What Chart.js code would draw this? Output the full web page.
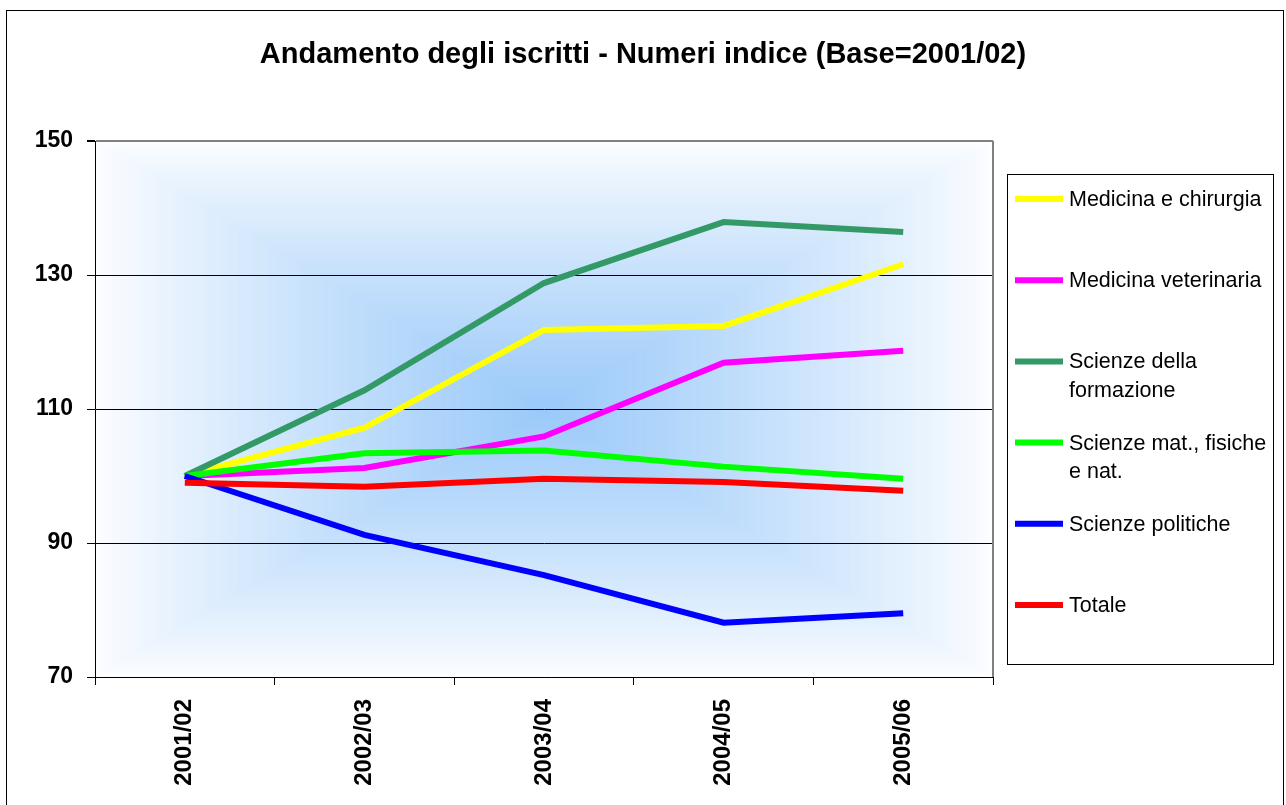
<!DOCTYPE html>
<html>
<head>
<meta charset="utf-8">
<script src="https://cdn.jsdelivr.net/npm/chart.js@4"></script>
<style>
  body { margin: 0; background: #fff; }
  #wrap { width: 1286px; height: 805px; }
</style>
</head>
<body>
<div id="wrap"><canvas id="lineChart" width="1286" height="805"></canvas></div>
<script>
var years = ['2001/02', '2002/03', '2003/04', '2004/05', '2005/06'];
var seriesNames = ['Medicina e chirurgia', 'Medicina veterinaria', 'Scienze della\nformazione', 'Scienze mat., fisiche\ne nat.', 'Scienze politiche', 'Totale'];
var medicinaChirurgia = [100, 107.2, 121.8, 122.4, 131.6];
var medicinaVeterinaria = [100, 101.2, 105.9, 116.9, 118.7];
var scienzeFormazione = [100, 112.8, 128.8, 137.9, 136.4];
var scienzeMat = [100, 103.4, 103.8, 101.4, 99.6];
var scienzePolitiche = [100, 91.2, 85.2, 78.1, 79.5];
var totale = [99.0, 98.4, 99.6, 99.1, 97.8];
var yTicks = [70, 90, 110, 130, 150];

var colors = ['#ffff00', '#ff00ff', '#339966', '#00ff00', '#0000ff', '#ff0000'];
var allSeries = [medicinaChirurgia, medicinaVeterinaria, scienzeFormazione, scienzeMat, scienzePolitiche, totale];
var FONT = '"Liberation Sans", Arial, sans-serif';

// rectangular "from centre" gradient behind the plot, like the old Excel fill
var plotBackground = {
  id: 'plotBackground',
  beforeDraw: function(chart) {
    var ctx = chart.ctx, a = chart.chartArea;
    ctx.save();
    ctx.fillStyle = '#ffffff';
    ctx.fillRect(0, 0, chart.width, chart.height);
    var w = a.right - a.left, h = a.bottom - a.top;
    var edge = [253, 254, 255], mid = [154, 201, 249];
    var steps = 140;
    for (var i = 0; i < steps; i++) {
      var t = i / steps;
      var k = Math.pow(t, 0.85);
      var r = Math.round(edge[0] + (mid[0] - edge[0]) * k);
      var g = Math.round(edge[1] + (mid[1] - edge[1]) * k);
      var b = Math.round(edge[2] + (mid[2] - edge[2]) * k);
      ctx.fillStyle = 'rgb(' + r + ',' + g + ',' + b + ')';
      ctx.fillRect(a.left + t * w / 2, a.top + t * h / 2, w * (1 - t), h * (1 - t));
    }
    ctx.restore();
  },
  afterDraw: function(chart) {
    var ctx = chart.ctx, a = chart.chartArea;
    ctx.save();
    // right border of plot
    ctx.strokeStyle = '#808080';
    ctx.lineWidth = 2;
    ctx.beginPath();
    ctx.moveTo(a.right, a.top);
    ctx.lineTo(a.right, a.bottom);
    ctx.stroke();
    // outer frame
    ctx.strokeStyle = '#000';
    ctx.lineWidth = 1;
    ctx.strokeRect(6.5, 10.5, 1277, 810);
    // legend
    ctx.strokeRect(1007.5, 174.5, 266, 490);
    ctx.font = '21.5px ' + FONT;
    ctx.textBaseline = 'middle';
    ctx.fillStyle = '#000';
    chart.data.datasets.forEach(function(ds, i) {
      var y = 199 + i * 81.2;
      ctx.strokeStyle = ds.borderColor;
      ctx.lineWidth = 6;
      ctx.beginPath();
      ctx.moveTo(1015, y);
      ctx.lineTo(1063, y);
      ctx.stroke();
      ds.label.split('\n').forEach(function(line, j) {
        ctx.fillText(line, 1069, y + 1 + j * 28.5);
      });
    });
    ctx.restore();
  }
};

var ctx = document.getElementById('lineChart');
var lineChart = new Chart(ctx, {
  type: 'line',
  data: {
    labels: years,
    datasets: allSeries.map(function(values, i) {
      return {
        label: seriesNames[i],
        data: values,
        borderColor: colors[i],
        backgroundColor: colors[i],
        borderWidth: 6,
        pointRadius: 0,
        tension: 0,
        order: allSeries.length - i
      };
    })
  },
  options: {
    responsive: false,
    animation: false,
    layout: { padding: 0 },
    plugins: {
      legend: { display: false },
      tooltip: { enabled: false },
      title: {
        display: true,
        text: 'Andamento degli iscritti - Numeri indice (Base=2001/02)',
        color: '#000',
        font: { family: FONT, size: 29, weight: 'bold' },
        padding: { top: 37.6, bottom: 68.6 }
      }
    },
    scales: {
      x: {
        offset: true,
        grid: { offset: true, drawOnChartArea: false, tickLength: 8, color: '#000' },
        border: { color: '#000', width: 1 },
        ticks: {
          color: '#000',
          font: { family: FONT, size: 24, weight: 'bold' },
          minRotation: 90,
          maxRotation: 90,
          padding: 14
        },
        afterFit: function(scale) { scale.height = 128; }
      },
      y: {
        min: 70,
        max: 150,
        afterBuildTicks: function(scale) {
          scale.ticks = yTicks.map(function(v) { return { value: v }; });
        },
        grid: {
          color: function(c) { return c.tick && c.tick.value === 150 ? '#808080' : '#000'; },
          lineWidth: function(c) { return c.tick && c.tick.value === 150 ? 2 : 1; },
          tickColor: '#000',
          tickLength: 8
        },
        border: { color: '#000', width: 1 },
        ticks: {
          color: '#000',
          font: { family: FONT, size: 23, weight: 'bold' },
          padding: 14
        },
        afterFit: function(scale) { scale.width = 95; }
      },
      // empty right-hand axis that only keeps room for the legend box
      side: {
        position: 'right',
        display: true,
        grid: { display: false },
        border: { display: false },
        ticks: { display: false },
        afterFit: function(scale) { scale.width = 293; }
      }
    }
  },
  plugins: [plotBackground]
});
</script>
</body>
</html>
